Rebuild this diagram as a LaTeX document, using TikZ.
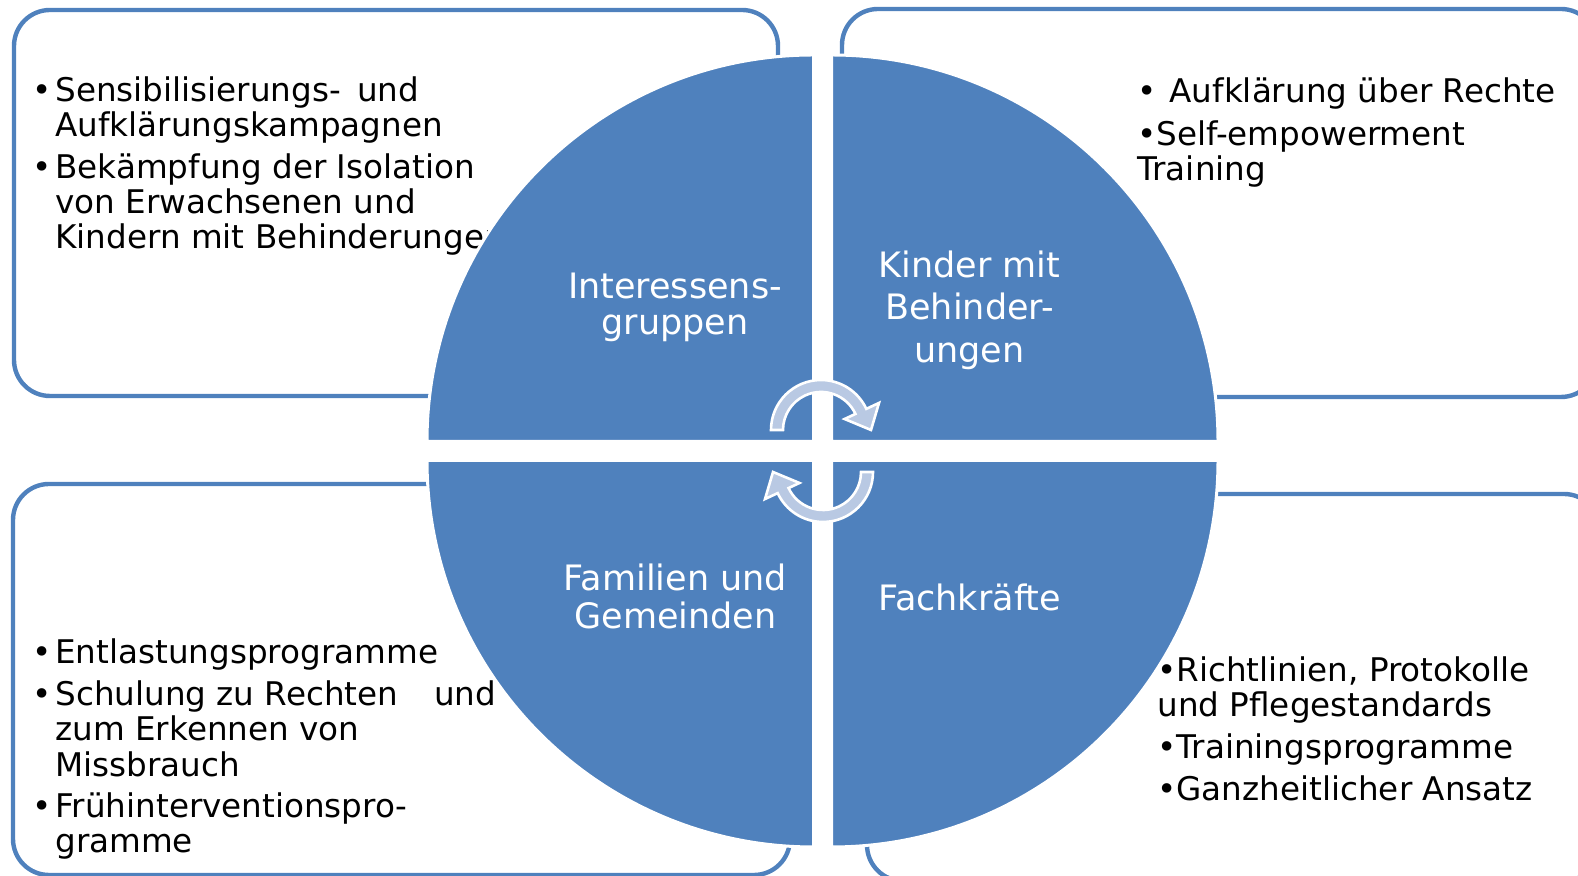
\documentclass[tikz,border=0pt]{standalone}
\usepackage{fontspec}
\setmainfont{DejaVu Sans}
\usetikzlibrary{positioning}
\definecolor{quadblue}{HTML}{4F81BD}
\definecolor{cycblue}{HTML}{B9C9E3}
\newcommand{\itm}{\makebox[11.5pt][l]{\textbullet}}
\newcommand{\ind}{\hspace*{11.5pt}}
\newcommand{\cycarrow}{(180:38) -- (180:50) arc[start angle=180, end angle=25, radius=50]
  -- (25:64) -- (0:50) -- (25:26) -- (25:38) arc[start angle=25, end angle=180, radius=38] -- cycle}

\begin{document}
\begin{tikzpicture}[
  x=0.5pt, y=0.5pt,
  boxframe/.style={draw=quadblue, line width=2.2pt, rounded corners=18pt},
  quadrant/.style={fill=quadblue, draw=white, line width=1.5pt},
  qlabel/.style={text=white, align=center, inner sep=0pt,
                 font=\fontsize{17.5pt}{18.5pt}\selectfont},
  itemlist/.style={anchor=base west, align=left, inner sep=0pt,
                   font=\fontsize{16.3pt}{17.5pt}\selectfont},
  cyc/.style={fill=cycblue, draw=white, line width=1.3pt}
]
  \useasboundingbox (0,0) rectangle (1578,876);
  \clip (0,0) rectangle (1578,876);

  % Frames
  \draw[boxframe] (14,480) rectangle (778,866);
  \draw[boxframe] (842,479) rectangle (1597,867);
  \draw[boxframe] (13,1) rectangle (790,392);
  \draw[boxframe] (867,-5) rectangle (1600,382);

  % Lists (anchored at the last line)
  \node[itemlist] (listInt) at (32,627)
    {\itm Sensibilisierungs-\hspace{8pt}und\\
     \ind Aufklärungskampagnen\\[3.5pt]
     \itm Bekämpfung der Isolation\\
     \ind von Erwachsenen und\\
     \ind Kindern mit Behinderungen};
  \node[itemlist] (listKind) at (1137,695)
    {\textbullet\hspace{6.5pt}Aufklärung über Rechte\\[4pt]
     \textbullet Self-empowerment\\
     Training};
  \node[itemlist] (listFam) at (32,23)
    {\itm Entlastungsprogramme\\[3.5pt]
     \itm Schulung zu Rechten\hspace{18pt}und\\
     \ind zum Erkennen von\\[0.5pt]
     \ind Missbrauch\\[3pt]
     \itm Frühinterventionspro-\\
     \ind gramme};
  \node[itemlist] (listFach) at (1157,75)
    {\textbullet Richtlinien, Protokolle\\
     und Pflegestandards\\[3.5pt]
     \textbullet Trainingsprogramme\\[3.5pt]
     \textbullet Ganzheitlicher Ansatz};

  % Quadrants
  \coordinate (cTL) at (813.5,434.5);
  \coordinate (cTR) at (831.5,434.5);
  \coordinate (cBL) at (813.5,415.5);
  \coordinate (cBR) at (831.5,415.5);
  \draw[quadrant] (cTL) -- ++(-386.5,0) arc[start angle=180, end angle=90, radius=386.5] -- cycle;
  \draw[quadrant] (cTR) -- ++(0,386.5) arc[start angle=90, end angle=0, radius=386.5] -- cycle;
  \draw[quadrant] (cBL) -- ++(-386.5,0) arc[start angle=180, end angle=270, radius=386.5] -- cycle;
  \draw[quadrant] (cBR) -- ++(386.5,0) arc[start angle=0, end angle=-90, radius=386.5] -- cycle;

  \node[qlabel, font=\fontsize{17.5pt}{18pt}\selectfont] (lblInt) at (675,569)
    {Interessens-\\gruppen};
  \node[qlabel, font=\fontsize{17.5pt}{21.25pt}\selectfont] (lblKind) at (969.5,566)
    {Kinder mit\\Behinder-\\ungen};
  \node[qlabel, font=\fontsize{17.5pt}{19pt}\selectfont] (lblFam) at (675.5,280)
    {Familien und\\Gemeinden};
  \node[qlabel] (lblFach) at (969.5,278.5) {Fachkräfte};

  % Cycle arrows
  \coordinate (cycTop) at (821,446);
  \coordinate (cycBot) at (823,404);
  \draw[cyc, shift={(cycTop)}] \cycarrow;
  \draw[cyc, shift={(cycBot)}, rotate=180] \cycarrow;
\end{tikzpicture}
\end{document}
